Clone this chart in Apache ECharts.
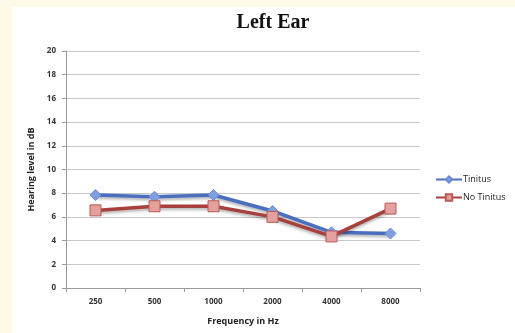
<!DOCTYPE html>
<html>
<head>
<meta charset="utf-8">
<script src="https://cdn.jsdelivr.net/npm/echarts@6/dist/echarts.min.js"></script>
<style>
  html, body { margin: 0; padding: 0; background: #fffae8; }
  #chart { width: 515px; height: 333px; }
</style>
</head>
<body>
<div id="chart"></div>
<script>
const frequencies = ["250", "500", "1000", "2000", "4000", "8000"];
const tinitus = [7.85, 7.7, 7.85, 6.5, 4.7, 4.6];
const noTinitus = [6.55, 6.9, 6.9, 6.0, 4.35, 6.7];

const chart = echarts.init(document.getElementById("chart"));

const lineShadow = {
  shadowColor: "rgba(0,0,0,0.3)",
  shadowBlur: 3,
  shadowOffsetY: 2,
};

chart.setOption({
  backgroundColor: "#fffae8",
  animation: false,
  graphic: [
    {
      type: "rect",
      left: 12,
      top: 7,
      shape: { width: 503, height: 326 },
      style: { fill: "#ffffff" },
      z: -10,
    },
  ],
  title: {
    text: "Left Ear",
    left: 268,
    top: 8,
    textAlign: "center",
    textStyle: {
      fontFamily: "Liberation Serif",
      fontWeight: "bold",
      fontSize: 20,
      color: "#111",
    },
  },
  legend: {
    orient: "vertical",
    left: 430,
    top: 170,
    itemWidth: 26,
    itemHeight: 8,
    itemGap: 9,
    textStyle: { fontFamily: "Open Sans", fontSize: 9, color: "#222", padding: [0, 0, 0, -4] },
    data: ["Tinitus", "No Tinitus"],
  },
  grid: { left: 66, right: 95, top: 51, bottom: 45 },
  xAxis: {
    type: "category",
    data: frequencies,
    boundaryGap: true,
    name: "Frequency in Hz",
    nameLocation: "middle",
    nameGap: 29,
    nameTextStyle: { fontFamily: "Open Sans", fontWeight: "bold", fontSize: 9, color: "#222" },
    axisLine: { lineStyle: { color: "#999", width: 1 } },
    axisTick: { show: true, length: 4, lineStyle: { color: "#999" } },
    axisLabel: { fontFamily: "Open Sans", fontWeight: "bold", fontSize: 8, color: "#333", margin: 10 },
  },
  yAxis: {
    type: "value",
    min: 0,
    max: 20,
    interval: 2,
    name: "Hearing level in dB",
    nameLocation: "middle",
    nameGap: 30,
    nameTextStyle: { fontFamily: "Open Sans", fontWeight: "bold", fontSize: 9, color: "#222" },
    axisLine: { show: true, lineStyle: { color: "#999", width: 1 } },
    axisTick: { show: true, length: 4, lineStyle: { color: "#999" } },
    axisLabel: { fontFamily: "Open Sans", fontWeight: "bold", fontSize: 8, color: "#333", margin: 10 },
    splitLine: { lineStyle: { color: "#c8c8c8", width: 1 } },
  },
  series: [
    {
      name: "Tinitus",
      type: "line",
      data: tinitus,
      symbol: "diamond",
      symbolSize: 11,
      color: "#4f81bd",
      lineStyle: Object.assign({ color: "#4a6fc0", width: 3.5 }, lineShadow),
      itemStyle: { color: "#7f9fe0", borderColor: "#6a8ad4", borderWidth: 1 },
      z: 3,
    },
    {
      name: "No Tinitus",
      type: "line",
      data: noTinitus,
      symbol: "rect",
      symbolSize: 11,
      color: "#c0504d",
      lineStyle: Object.assign({ color: "#a8413e", width: 3.5 }, lineShadow),
      itemStyle: { color: "#e4a09c", borderColor: "#b85a56", borderWidth: 1 },
      z: 4,
    },
  ],
});

window.addEventListener("resize", () => chart.resize());
</script>
</body>
</html>
